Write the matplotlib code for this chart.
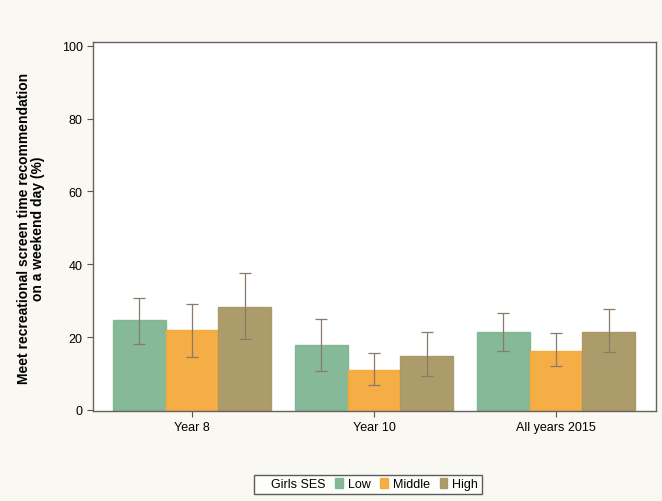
import matplotlib.pyplot as plt
from matplotlib.patches import Patch
import numpy as np

plt.rcParams['font.family'] = ['Liberation Sans', 'DejaVu Sans']

groups = ["Year 8", "Year 10", "All years 2015"]
ses_levels = ["Low", "Middle", "High"]
colors = ["#7fb592", "#f5a93b", "#a99763"]

# percentage meeting recommendation, and 95% CI bounds
low_vals = [24.7, 17.9, 21.3]
mid_vals = [21.9, 11.0, 16.3]
high_vals = [28.2, 14.9, 21.5]

low_lo = [18.2, 10.6, 16.2]
mid_lo = [14.5, 6.8, 12.0]
high_lo = [19.5, 9.2, 16.0]

low_hi = [30.6, 25.0, 26.5]
mid_hi = [29.1, 15.7, 21.0]
high_hi = [37.7, 21.5, 27.7]

vals = [low_vals, mid_vals, high_vals]
los = [low_lo, mid_lo, high_lo]
his = [low_hi, mid_hi, high_hi]

fig = plt.figure(figsize=(6.62, 5.02), dpi=100)
fig.patch.set_facecolor("#faf8f2")
ax = fig.add_axes([0.1405, 0.1793, 0.8505, 0.735])
ax.set_facecolor("white")

x = np.arange(len(groups))
w = 0.29
handles = [Patch(facecolor="none", edgecolor="none")]
labels = ["Girls SES"]
for i in range(3):
    xs = x + (i - 1) * w
    v = np.array(vals[i])
    lo = np.array(los[i])
    hi = np.array(his[i])
    b = ax.bar(xs, v, width=w, color=colors[i], edgecolor=colors[i], alpha=0.95,
               zorder=2)
    ax.errorbar(xs, v, yerr=[v - lo, hi - v], fmt="none", ecolor="#8a7a6a",
                elinewidth=0.9, capsize=4, capthick=0.9, zorder=3)
    handles.append(b)
    labels.append(ses_levels[i])

ax.set_xlim(-0.544, 2.55)
ax.set_ylim(-0.3, 101)
ax.set_xticks(x)
ax.set_xticklabels(groups, fontsize=8.5)
ax.set_yticks([0, 20, 40, 60, 80, 100])
ax.tick_params(axis="both", labelsize=9, color="#555555", length=4)
for s in ax.spines.values():
    s.set_color("#6a6060")
    s.set_linewidth(1.0)

fig.text(0.047, 0.545, "Meet recreational screen time recommendation\non a weekend day (%)",
         rotation=90, ha="center", va="center", fontsize=10, fontweight="bold",
         linespacing=1.05)

leg = fig.legend(handles, labels, loc="center", bbox_to_anchor=(0.556, 0.033), ncol=4,
                 fontsize=9, frameon=True, fancybox=False, edgecolor="#333333",
                 handlelength=0.6, handleheight=0.8, handletextpad=0.4,
                 columnspacing=0.8, borderpad=0.3)
leg.get_frame().set_linewidth(1.0)
leg.get_frame().set_facecolor("white")

fig.savefig("out.png", dpi=100, facecolor=fig.get_facecolor())
